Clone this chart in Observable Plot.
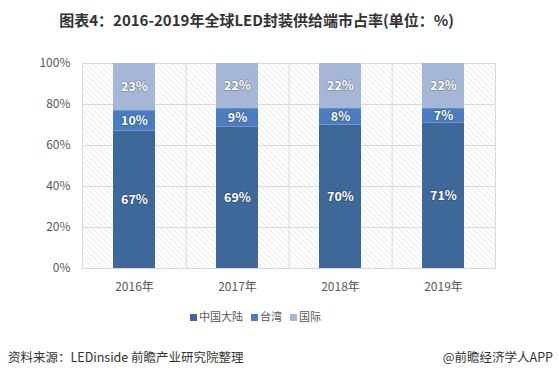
<!DOCTYPE html>
<html><head><meta charset="utf-8">
<script src="https://cdn.jsdelivr.net/npm/d3@7"></script>
<script src="https://cdn.jsdelivr.net/npm/@observablehq/plot@0.6"></script>
<style>
body{margin:0;background:#fff;font-family:"Noto Sans CJK SC","Noto Sans",sans-serif;}
#wrap{position:relative;width:559px;height:376px;overflow:hidden;}
#title{position:absolute;left:0;width:513px;top:8px;text-align:center;font-size:15px;font-weight:bold;color:#333;line-height:24px;}
#chart{position:absolute;left:0;top:40px;}
#legend{position:absolute;left:0;width:511px;top:306px;text-align:center;font-size:11px;color:#595959;line-height:20px;}
#legend span.item{margin:0 4px;}
#legend span.sw{display:inline-block;width:7px;height:7px;margin-right:2px;vertical-align:0px;}
#src{position:absolute;left:8px;top:347px;font-size:12.5px;color:#333;line-height:20px;}
#app{position:absolute;right:6px;top:347px;font-size:12.5px;color:#333;line-height:20px;}
</style></head>
<body><div id="wrap">
<div id="title">图表4：2016-2019年全球LED封装供给端市占率(单位：%)</div>
<div id="chart"></div>
<div id="legend"></div>
<div id="src">资料来源：LEDinside 前瞻产业研究院整理</div>
<div id="app">@前瞻经济学人APP</div>
</div>
<script>
const years = ["2016年","2017年","2018年","2019年"];
const seriesNames = ["中国大陆","台湾","国际"];
const mainland = [67,69,70,71];
const taiwan = [10,9,8,7];
const intl = [23,22,22,22];
const yTicks = [0,20,40,60,80,100];
const colors = ["#3e6899","#4a7cbf","#a5b6d6"];

const values = [mainland, taiwan, intl];
const data = [];
years.forEach((y,i)=>{
  let base = 0;
  seriesNames.forEach((s,j)=>{
    const v = values[j][i];
    data.push({year:y, series:s, value:v, y1:base, y2:base+v, mid:base+v/2});
    base += v;
  });
});

const W = 559, H = 265, mL = 82, mR = 64, mT = 23, mB = 37;
const step = (W - mL - mR) / years.length;

const plot = Plot.plot({
  width: W, height: H,
  marginLeft: mL, marginRight: mR, marginTop: mT, marginBottom: mB,
  style: {fontFamily: '"Noto Sans CJK SC","Noto Sans",sans-serif', background: "transparent"},
  x: {domain: years, paddingInner: 0.59, paddingOuter: 0.295, label: null, tickSize: 0, tickPadding: 14},
  y: {domain: [0,100], ticks: yTicks, tickFormat: d => d + "%", label: null, tickSize: 0, tickPadding: 12},
  color: {domain: seriesNames, range: colors},
  marks: [
    Plot.frame({fill: "url(#hatch)", stroke: "#d9d9d9"}),
    Plot.ruleY(yTicks, {stroke: "#d9d9d9", strokeWidth: 1}),
    Plot.ruleX(years.slice(0,-1), {x: d => d, dx: step/2, stroke: "#d9d9d9"}),
    Plot.rectY(data, {x: "year", y1: "y1", y2: "y2", fill: "series"}),
    Plot.text(data, {x: "year", y: "mid", text: d => d.value + "%", fill: "white", fontWeight: "bold", fontSize: 12.5, stroke: "rgba(0,0,0,0.25)", strokeWidth: 1.5, paintOrder: "stroke"})
  ]
});
plot.querySelectorAll('[aria-label="x-axis tick label"], [aria-label="y-axis tick label"]').forEach(g=>{g.setAttribute("font-size","12");g.setAttribute("fill","#595959");});

const ns = "http://www.w3.org/2000/svg";
const defs = document.createElementNS(ns, "defs");
defs.innerHTML = '<pattern id="hatch" patternUnits="userSpaceOnUse" width="4" height="4" patternTransform="rotate(-45)"><rect width="4" height="4" fill="#ffffff"/><line x1="0" y1="0" x2="0" y2="4" stroke="#dcdcdc" stroke-width="1"/></pattern>';
plot.insertBefore(defs, plot.firstChild);
document.getElementById("chart").appendChild(plot);

const leg = document.getElementById("legend");
seriesNames.forEach((s,i)=>{
  const it = document.createElement("span");
  it.className = "item";
  it.innerHTML = '<span class="sw" style="background:'+colors[i]+'"></span>' + s;
  leg.appendChild(it);
});
</script>
</body></html>
